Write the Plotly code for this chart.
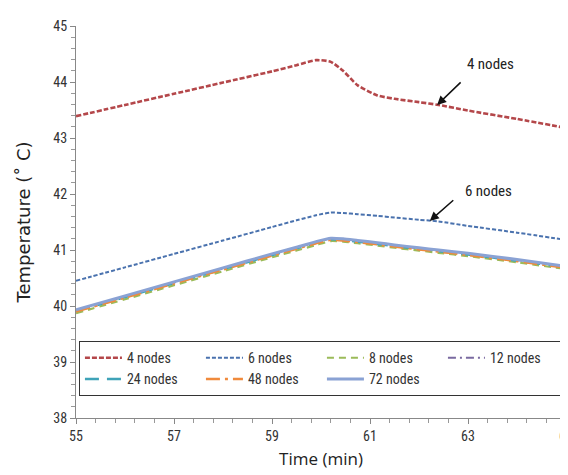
import plotly.graph_objects as go

time = [55, 56, 57, 58, 59, 59.5, 59.9, 60.2, 60.45, 60.75, 61.15, 61.5, 62, 62.4, 63, 64, 65]

t4  = [43.39, 43.59, 43.79, 43.99, 44.19, 44.30, 44.39, 44.36, 44.20, 43.94, 43.76, 43.70, 43.64, 43.59, 43.49, 43.34, 43.18]
t6  = [40.45, 40.69, 40.93, 41.17, 41.41, 41.53, 41.62, 41.67, 41.66, 41.64, 41.61, 41.58, 41.54, 41.51, 41.43, 41.31, 41.18]
t8  = [39.87, 40.12, 40.37, 40.62, 40.87, 40.99, 41.09, 41.16, 41.15, 41.12, 41.08, 41.04, 40.99, 40.95, 40.89, 40.78, 40.66]
t12 = [39.92, 40.17, 40.42, 40.67, 40.92, 41.04, 41.14, 41.20, 41.19, 41.16, 41.12, 41.08, 41.03, 40.99, 40.93, 40.82, 40.70]
t24 = [39.91, 40.16, 40.41, 40.66, 40.91, 41.03, 41.13, 41.19, 41.18, 41.15, 41.11, 41.07, 41.02, 40.98, 40.92, 40.81, 40.69]
t48 = [39.90, 40.15, 40.40, 40.65, 40.90, 41.02, 41.12, 41.18, 41.17, 41.14, 41.10, 41.06, 41.01, 40.97, 40.91, 40.80, 40.68]
t72 = [39.93, 40.18, 40.43, 40.68, 40.93, 41.05, 41.15, 41.21, 41.20, 41.17, 41.13, 41.09, 41.04, 41.00, 40.94, 40.83, 40.71]

names = ["4 nodes", "6 nodes", "8 nodes", "12 nodes", "24 nodes", "48 nodes", "72 nodes"]
series = [t4, t6, t8, t12, t24, t48, t72]
colors = ["#B4474A", "#4A72AE", "#9BBB59", "#7A6AA0", "#3FA3B8", "#F08A3C", "#8AA2D4"]
dashes = ["5px,2px", "4px,2px", "7px,5px", "8px,4px,2px,4px", "14px,8px", "14px,5px,3px,5px", "solid"]
widths = [2.6, 2.0, 2.2, 2.0, 2.6, 2.4, 3.0]

x_ticks = [55, 57, 59, 61, 63, 65]
y_ticks = [38, 39, 40, 41, 42, 43, 44, 45]

narrow = "Liberation Sans Narrow, Arial Narrow, Roboto Condensed, Roboto, sans-serif"

fig = go.Figure()
for n, s, c, d, w in zip(names, series, colors, dashes, widths):
    fig.add_trace(go.Scatter(x=time, y=s, name=n, mode="lines",
                             line=dict(color=c, dash=d, width=w, shape="spline", smoothing=0.6)))

fig.update_layout(
    width=568, height=475,
    margin=dict(l=68, r=3, t=18, b=65),
    plot_bgcolor="white", paper_bgcolor="white",
    showlegend=True,
    legend=dict(orientation="h", x=0.006, y=0.196, xanchor="left", yanchor="top",
                bordercolor="#333", borderwidth=1, bgcolor="white",
                font=dict(family=narrow, size=14, color="#333"),
                entrywidth=69, entrywidthmode="pixels", itemwidth=37,
                traceorder="normal"),
    xaxis=dict(range=[55, 65], tickvals=x_ticks, ticktext=[str(v) for v in x_ticks],
               ticks="outside", ticklen=5, tickcolor="#888", showline=True,
               linecolor="#888", linewidth=1, showgrid=False, zeroline=False,
               ticklabeloverflow="allow",
               minor=dict(dtick=0.4, tick0=55, ticks="outside", ticklen=4, tickcolor="#999"),
               tickfont=dict(family=narrow, size=14, color="#333"),
               title=dict(text="Time (min)", font=dict(family="Open Sans, sans-serif", size=17, color="#222"),
                          standoff=10)),
    yaxis=dict(range=[38, 45], tickvals=y_ticks, ticktext=[str(v) for v in y_ticks],
               ticks="outside", ticklen=5, tickcolor="#888", showline=True,
               linecolor="#888", linewidth=1, showgrid=False, zeroline=False,
               minor=dict(dtick=0.2, tick0=38, ticks="outside", ticklen=4, tickcolor="#999"),
               tickfont=dict(family=narrow, size=14, color="#333"),
               title=dict(text="Temperature (˚ C)", font=dict(family="DejaVu Sans, sans-serif", size=18, color="#222"),
                          standoff=18)),
)

fig.add_annotation(x=62.37, y=43.59, ax=25, ay=-24, text="", showarrow=True,
                   arrowhead=2, arrowsize=1.2, arrowwidth=1.5, arrowcolor="#111")
fig.add_annotation(x=63.45, y=44.33, text="4 nodes", showarrow=False,
                   font=dict(family=narrow, size=15, color="#222"))
fig.add_annotation(x=62.22, y=41.52, ax=25, ay=-22, text="", showarrow=True,
                   arrowhead=2, arrowsize=1.2, arrowwidth=1.5, arrowcolor="#111")
fig.add_annotation(x=63.42, y=42.05, text="6 nodes", showarrow=False,
                   font=dict(family=narrow, size=15, color="#222"))

fig.write_html("out.html")
